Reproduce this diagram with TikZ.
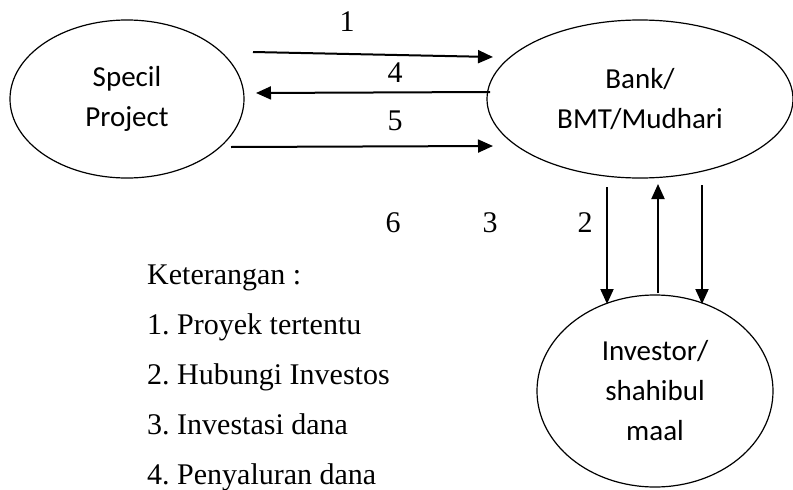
\documentclass[tikz,border=0pt]{standalone}
\usepackage{fontspec}
\setmainfont{Liberation Serif}
\newfontfamily\calfont{Carlito}
\usetikzlibrary{shapes.geometric,arrows.meta}
\begin{document}
\begin{tikzpicture}[x=1pt,y=-1pt,
  ell/.style={draw,line width=1.2pt,ellipse,inner sep=0pt,font=\calfont\fontsize{29}{40}\selectfont,align=center},
  arr/.style={line width=2pt,-{Triangle[length=15pt,width=13pt]}},
  num/.style={font=\fontsize{30}{34}\selectfont,inner sep=0pt},
  leg/.style={font=\fontsize{30}{34}\selectfont,inner sep=0pt,anchor=base west}]
\useasboundingbox (0,0) rectangle (793,490);
\node[ell,minimum width=234pt,minimum height=158pt] (sp) at (127,99) {Specil\\Project};
\node[ell,minimum width=306pt,minimum height=158pt] (bank) at (640,99) {Bank/\\BMT/Mudhari};
\node[ell,minimum width=236pt,minimum height=192pt] (inv) at (655,391) {Investor/\\shahibul\\maal};
% endpoints
\coordinate (a1s) at (253,52); \coordinate (a1e) at (493,57);
\coordinate (a4s) at (490,92); \coordinate (a4e) at (256,93);
\coordinate (a5s) at (231,147); \coordinate (a5e) at (493,146);
\coordinate (b2s) at (607,187); \coordinate (b2e) at (607,304);
\coordinate (b3s) at (658,293); \coordinate (b3e) at (658,184);
\coordinate (b6s) at (702,185); \coordinate (b6e) at (702,304);
\draw[arr] (a1s) -- (a1e);
\draw[arr] (a4s) -- (a4e);
\draw[arr] (a5s) -- (a5e);
\draw[arr] (b2s) -- (b2e);
\draw[arr] (b3s) -- (b3e);
\draw[arr] (b6s) -- (b6e);
\node[num] (n1) at (347,22) {1};
\node[num] (n4) at (395,73) {4};
\node[num] (n5) at (395,121) {5};
\node[num] (n6) at (393,223) {6};
\node[num] (n3) at (490,223) {3};
\node[num] (n2) at (585,223) {2};
\node[leg] (k0) at (147,284) {Keterangan :};
\node[leg] (k1) at (147,334) {1.\ Proyek tertentu};
\node[leg] (k2) at (147,384) {2.\ Hubungi Investos};
\node[leg] (k3) at (147,434) {3.\ Investasi dana};
\node[leg] (k4) at (147,484) {4.\ Penyaluran dana};
\end{tikzpicture}
\end{document}
